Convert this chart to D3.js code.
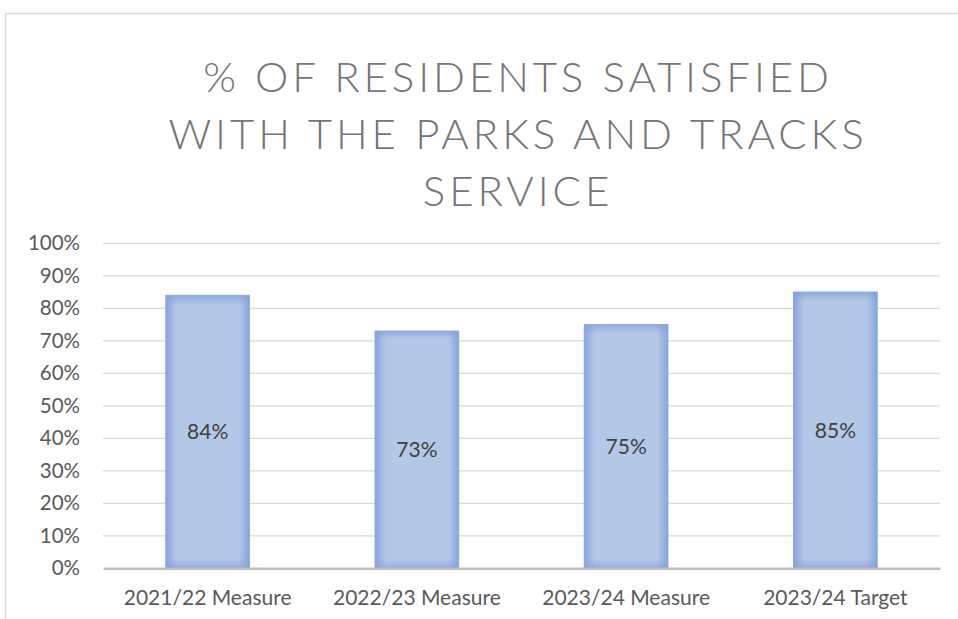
<!DOCTYPE html>
<html>
<head>
<meta charset="utf-8">
<script src="https://cdn.jsdelivr.net/npm/d3@7"></script>
<style>
  html, body { margin: 0; padding: 0; background: #fff; }
  svg { display: block; }
</style>
</head>
<body>
<svg id="chart" width="958" height="619"></svg>
<script>
// Survey results: share of residents satisfied with the parks and tracks service
const categories = ["2021/22 Measure", "2022/23 Measure", "2023/24 Measure", "2023/24 Target"];
const values = [0.84, 0.73, 0.75, 0.85];
const valueLabels = ["84%", "73%", "75%", "85%"];
const tickValues = [0, 0.1, 0.2, 0.3, 0.4, 0.5, 0.6, 0.7, 0.8, 0.9, 1.0];
const titleLines = ["% OF RESIDENTS SATISFIED", "WITH THE PARKS AND TRACKS", "SERVICE"];

const svg = d3.select("#chart");
const W = 958, H = 619;
const plot = { left: 103, right: 940, top: 243.3, bottom: 568.3 };

const labelFont = "Lato, 'Open Sans', 'Liberation Sans', sans-serif";

// outer frame of the chart area
svg.append("path")
  .attr("d", `M5.5,${H} V13.5 H${W}`)
  .attr("fill", "none")
  .attr("stroke", "#d9d9d9")
  .attr("stroke-width", 1.5);

// title
const title = svg.append("text")
  .attr("text-anchor", "middle")
  .attr("fill", "#757575")
  .style("font-family", "Lato, 'Open Sans', sans-serif")
  .style("font-weight", 300)
  .style("font-size", "42px")
  .style("letter-spacing", "3.9px");
titleLines.forEach((line, i) => {
  title.append("tspan")
    .attr("x", 518)
    .attr("y", 92 + i * 57)
    .text(line);
});

const x = d3.scaleBand()
  .domain(categories)
  .range([plot.left, plot.right])
  .paddingInner(0.6)
  .paddingOuter(0.3);

const y = d3.scaleLinear()
  .domain([0, 1])
  .range([plot.bottom, plot.top]);

// horizontal gridlines
svg.append("g")
  .selectAll("line")
  .data(tickValues.filter(d => d > 0))
  .join("line")
  .attr("x1", plot.left)
  .attr("x2", plot.right)
  .attr("y1", d => y(d))
  .attr("y2", d => y(d))
  .attr("stroke", "#d9d9d9")
  .attr("stroke-width", 1.3);

// y axis labels
const yAxis = d3.axisLeft(y)
  .tickValues(tickValues)
  .tickFormat(d3.format(".0%"))
  .tickSize(0)
  .tickPadding(23);
const gy = svg.append("g")
  .attr("transform", `translate(${plot.left},0)`)
  .call(yAxis);
gy.select(".domain").remove();
gy.selectAll("text")
  .attr("fill", "#595959")
  .style("font-family", labelFont)
  .style("font-size", "20.5px");

// gradients for the bar fill (soft inner glow)
const defs = svg.append("defs");
const gh = defs.append("linearGradient").attr("id", "glowH")
  .attr("x1", "0").attr("x2", "1").attr("y1", "0").attr("y2", "0");
[[0, 0.85], [0.13, 0], [0.87, 0], [1, 0.85]].forEach(([o, a]) =>
  gh.append("stop").attr("offset", o).attr("stop-color", "#7f9fd8").attr("stop-opacity", a));
const gv = defs.append("linearGradient").attr("id", "glowV")
  .attr("x1", "0").attr("x2", "0").attr("y1", "0").attr("y2", "1");
[[0, 0.7], [0.035, 0], [0.965, 0], [1, 0.7]].forEach(([o, a]) =>
  gv.append("stop").attr("offset", o).attr("stop-color", "#7f9fd8").attr("stop-opacity", a));

const bars = svg.append("g")
  .selectAll("g")
  .data(categories.map((c, i) => ({ c, v: values[i], label: valueLabels[i] })))
  .join("g");

bars.append("rect")
  .attr("x", d => x(d.c))
  .attr("y", d => y(d.v))
  .attr("width", x.bandwidth())
  .attr("height", d => y(0) - y(d.v))
  .attr("fill", "#b4c7e7");
bars.append("rect")
  .attr("x", d => x(d.c))
  .attr("y", d => y(d.v))
  .attr("width", x.bandwidth())
  .attr("height", d => y(0) - y(d.v))
  .attr("fill", "url(#glowH)");
bars.append("rect")
  .attr("x", d => x(d.c))
  .attr("y", d => y(d.v))
  .attr("width", x.bandwidth())
  .attr("height", d => y(0) - y(d.v))
  .attr("fill", "url(#glowV)")
  .attr("stroke", "#8eaadc")
  .attr("stroke-width", 1);

// value labels in the middle of each bar
bars.append("text")
  .attr("x", d => x(d.c) + x.bandwidth() / 2)
  .attr("y", d => y(d.v / 2))
  .attr("dy", "0.35em")
  .attr("text-anchor", "middle")
  .attr("fill", "#404040")
  .style("font-family", labelFont)
  .style("font-size", "21px")
  .text(d => d.label);

// category axis
const xAxis = d3.axisBottom(x).tickSize(0).tickPadding(22);
const gx = svg.append("g")
  .attr("transform", `translate(0,${plot.bottom})`)
  .call(xAxis);
gx.select(".domain")
  .attr("stroke", "#bfbfbf")
  .attr("stroke-width", 2.5);
gx.selectAll("text")
  .attr("fill", "#595959")
  .style("font-family", labelFont)
  .style("font-size", "21px");
</script>
</body>
</html>
